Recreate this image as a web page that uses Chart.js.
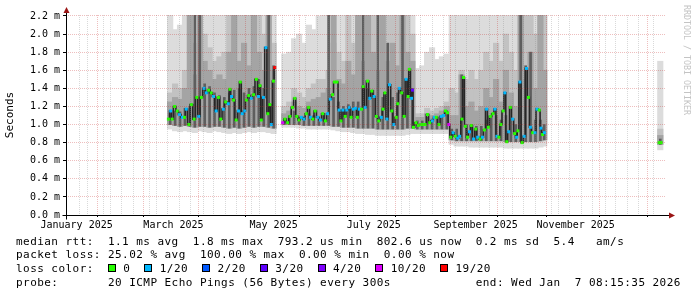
<!DOCTYPE html>
<html>
<head>
<meta charset="utf-8">
<script src="https://cdn.jsdelivr.net/npm/chart.js@4.4.1/dist/chart.umd.min.js"></script>
<style>
  html, body { margin: 0; padding: 0; background: #fff; }
  #wrap { position: relative; width: 697px; height: 297px; overflow: hidden; }
  #chart { position: absolute; left: 0; top: 0; }
  #legend { position: absolute; left: 16px; top: 234.6px; margin: 0; color: #000;
    font: 11px/13.8px "DejaVu Sans Mono", monospace; letter-spacing: 0.45px; white-space: pre; }
  .sq { display: inline-block; width: 8px; height: 8px; box-sizing: border-box;
    border: 1px solid #000; margin-right: 7.3px; vertical-align: baseline; }
  #mark { position: absolute; left: 682px; top: 5px; writing-mode: vertical-rl;
    font: 8.3px "DejaVu Sans Mono", monospace; color: #c4c4c4; white-space: nowrap; }
</style>
</head>
<body>
<div id="wrap">
  <canvas id="chart" width="697" height="297"></canvas>
  <div id="mark">RRDTOOL / TOBI OETIKER</div>
  <pre id="legend"></pre>
</div>
<script>
// x values are days counted from 1 Jan 2025 (day 0)
const X_MIN = 11.2;
const X_MAX = 371.34;   // Wed Jan 7 08:15:35 2026
const Y_MAX = 2.211;    // ms

// -------------------- axis data --------------------
const monthStartDays = [31, 59, 90, 120, 151, 181, 212, 243, 273, 304, 334, 365];
const monthLabelDays = [15, 74, 135, 196, 258, 319];
const monthLabels = ['January 2025', 'March 2025', 'May 2025', 'July 2025', 'September 2025', 'November 2025'];
const firstSunday = 18;

// -------------------- loss legend --------------------
const lossLevels = [0, 1, 2, 3, 4, 10, 19];
const lossLabels = ['0', '1/20', '2/20', '3/20', '4/20', '10/20', '19/20'];
const lossColors = ['#26ff00', '#00b8ff', '#0059ff', '#5e00ff', '#7e00ff', '#dd00ff', '#ff0000'];

const medianStats = ['1.1 ms avg', '1.8 ms max', '793.2 us min', '802.6 us now', '0.2 ms sd', '5.4   am/s'];
const lossStats = ['25.02 % avg', '100.00 % max', '0.00 % min', '0.00 % now'];
const probeText = '20 ICMP Echo Pings (56 Bytes) every 300s';
const endText = 'end: Wed Jan  7 08:15:35 2026';

// -------------------- median rtt (ms) --------------------
const medianDays = [
  70.9, 72.3, 73.2, 74.7, 76.3, 77.7, 79.4, 80.7, 81.8, 83.4,
  84.9, 86.6, 88.2, 89.4, 91.0, 92.6, 94.0, 95.4, 97.0, 98.4,
  100.0, 101.4, 102.8, 104.4, 105.8, 107.4, 108.4, 109.4, 110.6, 112.2,
  113.6, 114.7, 115.9, 117.4, 118.4, 119.8, 121.4, 122.8, 124.5, 125.8,
  126.7, 127.5, 128.8, 130.3, 131.5, 132.7, 133.6, 134.9, 135.7, 137.5,
  140.5, 141.9, 143.5, 144.9, 146.5, 147.9, 149.1, 150.5, 151.9, 153.5,
  154.9, 156.3, 157.5, 158.9, 160.3, 161.9, 163.5, 164.9, 166.5, 167.9,
  169.5, 170.9, 172.1, 173.6, 174.9, 176.0, 177.2, 178.6, 179.6, 181.0,
  182.2, 183.6, 184.8, 186.0, 187.2, 188.6, 189.6, 190.8, 192.2, 193.6,
  194.8, 196.2, 197.6, 199.0, 200.6, 201.6, 202.8, 204.0, 205.6, 207.0,
  208.2, 209.7, 210.6, 211.6, 213.0, 214.5, 215.7, 216.9, 217.7, 219.0,
  219.6, 220.2, 221.7, 223.1, 224.7, 226.1, 227.3, 228.7, 230.1, 231.7,
  232.9, 234.1, 235.7, 237.1, 238.5, 239.7, 240.9, 241.7, 242.9, 244.3,
  245.7, 247.1, 248.3, 249.7, 250.7, 251.8, 253.1, 254.3, 255.4, 256.8,
  258.1, 259.3, 260.8, 262.2, 263.4, 264.7, 265.8, 267.0, 268.6, 269.8,
  271.0, 272.2, 273.4, 274.8, 275.8, 277.0, 278.2, 279.2, 280.6, 281.8,
  283.0, 283.8, 285.0, 286.4, 287.6, 289.0, 290.2, 291.4, 292.8, 294.2,
  295.4, 296.8, 297.8, 298.8, 299.9, 335.0, 369.8, 371.0
];
const medianValues = [
  1.06, 1.15, 1.06, 1.20, 1.15, 1.11, 1.08, 1.08, 1.17, 1.00,
  1.22, 1.06, 1.30, 1.09, 1.30, 1.40, 1.35, 1.38, 1.35, 1.31,
  1.15, 1.30, 1.06, 1.17, 1.25, 1.23, 1.39, 1.31, 1.27, 1.05,
  1.15, 1.47, 1.12, 1.15, 1.27, 1.32, 1.29, 1.33, 1.50, 1.31,
  1.43, 1.05, 1.30, 1.85, 1.12, 1.22, 1.00, 1.48, 1.63, null,
  1.02, 1.06, 1.02, 1.09, 1.19, 1.29, 1.09, 1.05, 1.08, 1.06,
  1.12, 1.19, 1.08, 1.06, 1.15, 1.08, 1.05, 1.12, 1.04, 1.12,
  1.28, 1.33, 1.47, 1.47, 1.16, 1.04, 1.16, 1.09, 1.16, 1.19,
  1.08, 1.17, 1.18, 1.08, 1.17, 1.17, 1.42, 1.19, 1.48, 1.29,
  1.37, 1.31, 1.09, 1.04, 1.08, 1.17, 1.35, 1.06, 1.44, 1.15,
  1.00, 1.08, 1.23, 1.40, 1.35, 1.09, 1.50, 1.31, 1.61, 1.29,
  1.38, 0.97, 1.02, 0.99, 1.00, 1.00, 1.00, 1.11, 1.02, 1.04,
  1.08, 1.08, 1.00, 1.09, 1.10, 1.15, 1.13, 1.00, 0.86, 0.91,
  0.87, 0.85, 0.87, 1.06, 1.52, 0.98, 0.86, 0.92, 0.99, 0.84,
  0.95, 0.86, 0.84, 0.86, 0.94, 1.17, 0.97, 1.09, 1.12, 1.17,
  0.87, 0.86, 1.00, 1.15, 1.35, 0.81, 0.92, 1.19, 1.06, 0.90,
  0.86, 0.93, 1.47, 0.80, 0.87, 1.62, 1.30, 0.97, 0.91, 0.91,
  1.17, 1.16, 0.96, 0.89, 0.91, null, 0.80, 0.80
];
// lost pings out of 20 for each median point
const medianLoss = [
  0, 1, 0, 0, 0, 1, 1, 0, 1, 0,
  0, 0, 0, 1, 0, 1, 1, 0, 0, 1,
  1, 0, 0, 1, 0, 1, 0, 1, 0, 0,
  1, 0, 1, 1, 0, 0, 1, 0, 0, 1,
  0, 0, 1, 1, 0, 0, 1, 0, 19, 0,
  10, 0, 0, 0, 0, 0, 0, 0, 1, 1,
  0, 0, 1, 0, 0, 1, 1, 0, 0, 1,
  1, 0, 0, 0, 1, 0, 1, 0, 1, 1,
  0, 1, 1, 0, 1, 0, 0, 1, 0, 1,
  0, 1, 0, 0, 1, 0, 0, 1, 1, 0,
  1, 0, 0, 1, 0, 0, 1, 0, 0, 1,
  3, 0, 0, 0, 0, 0, 0, 0, 0, 1,
  1, 0, 0, 1, 1, 0, 0, 10, 0, 1,
  0, 1, 1, 0, 0, 0, 0, 1, 0, 1,
  0, 1, 0, 1, 0, 1, 0, 0, 0, 1,
  1, 0, 0, 0, 1, 0, 1, 0, 1, 0,
  1, 0, 1, 0, 1, 1, 0, 1, 0, 1,
  1, 0, 1, 0, 1, 0, 0, 0
];

// -------------------- smoke (ping spread, ms) --------------------
const smokeDays = [
  72, 75, 78, 81, 84, 87, 90, 93, 96, 99, 102, 105, 108, 111, 114, 117, 120, 123, 126, 129, 132, 135,
  141.5, 144.5, 147.5, 150.5, 153.5, 156.5, 159.5, 162.5, 165.5, 168.5,
  171.5, 174.5, 177.5, 180.5, 183.5, 186.5, 189.5, 192.5, 195.5, 198.5,
  201.5, 204.5, 207.5, 210.5, 213.5, 216.5, 219.5, 222.5, 225.5, 228.5,
  231.5, 234.5, 237.5, 240.5, 243.5, 246.5, 249.5, 252.5, 255.5, 258.5,
  261.5, 264.5, 267.5, 270.5, 273.5, 276.5, 279.5, 282.5, 285.5, 288.5,
  291.5, 294.5, 297.5, 299.8,
  370.5
];
const smokeMin = [
  0.95, 0.93, 0.92, 0.93, 0.92, 0.91, 0.93, 0.92, 0.91, 0.93, 0.92, 0.91, 0.90, 0.91, 0.90, 0.91, 0.92, 0.91, 0.92, 0.92, 0.91, 0.90,
  0.97, 0.97, 0.97, 0.96, 0.96, 0.95, 0.95, 0.95, 0.95, 0.95,
  0.94, 0.93, 0.92, 0.92, 0.91, 0.90, 0.90, 0.89, 0.89, 0.88,
  0.88, 0.88, 0.88, 0.88, 0.88, 0.89, 0.90, 0.90, 0.90, 0.90,
  0.90, 0.90, 0.90, 0.90, 0.78, 0.76, 0.76, 0.76, 0.75, 0.75,
  0.75, 0.75, 0.75, 0.75, 0.75, 0.74, 0.74, 0.74, 0.74, 0.74,
  0.74, 0.74, 0.75, 0.76,
  0.72
];
const smokeLow = [
  1.00, 0.99, 0.98, 0.99, 0.98, 0.97, 0.98, 0.98, 0.97, 0.98, 0.98, 0.97, 0.96, 0.97, 0.96, 0.97, 0.98, 0.97, 0.98, 0.98, 0.97, 0.96,
  1.00, 1.00, 1.00, 1.00, 0.99, 0.99, 0.99, 0.99, 0.99, 0.99,
  0.98, 0.98, 0.97, 0.97, 0.97, 0.96, 0.96, 0.96, 0.96, 0.95,
  0.95, 0.95, 0.95, 0.95, 0.95, 0.96, 0.96, 0.95, 0.95, 0.95,
  0.95, 0.95, 0.95, 0.95, 0.83, 0.82, 0.82, 0.82, 0.82, 0.82,
  0.82, 0.82, 0.82, 0.82, 0.82, 0.81, 0.81, 0.81, 0.81, 0.81,
  0.81, 0.81, 0.82, 0.83,
  0.78
];
const smokeMid = [
  1.12, 1.15, 1.14, 1.18, 1.20, 2.25, 2.25, 1.45, 1.42, 1.35, 1.32, 1.30, 1.35, 1.38, 1.40, 1.35, 1.40, 1.42, 1.50, 1.40, 2.25, 1.65,
  1.05, 1.07, 1.15, 1.08, 1.08, 1.12, 1.10, 1.08, 1.10, 2.25,
  1.30, 1.25, 1.20, 1.22, 1.25, 1.25, 2.25, 1.40, 1.38, 2.25,
  1.30, 1.90, 1.30, 1.35, 2.25, 1.50, 1.40, 1.04, 1.04, 1.08,
  1.06, 1.08, 1.10, 1.15, 0.95, 0.95, 1.55, 1.00, 1.00, 0.98,
  0.98, 1.05, 1.10, 1.10, 1.05, 1.10, 1.05, 1.00, 2.25, 1.65,
  1.80, 1.05, 1.05, 1.00,
  0.84
];
const smokeUpper = [
  1.25, 1.30, 1.28, 1.40, 2.25, 1.55, 2.25, 1.70, 1.60, 1.50, 1.55, 1.50, 1.80, 2.25, 1.70, 1.90, 1.65, 2.25, 1.80, 1.60, 2.25, 1.60,
  1.12, 1.15, 1.25, 1.20, 1.18, 1.25, 1.28, 1.30, 1.35, 1.40,
  2.25, 1.50, 1.45, 1.70, 1.55, 2.25, 1.70, 2.25, 1.80, 1.60,
  2.25, 1.70, 1.90, 1.65, 2.25, 1.80, 1.70, 1.08, 1.08, 1.12,
  1.10, 1.12, 1.15, 1.20, 1.10, 1.10, 1.55, 1.20, 1.25, 1.15,
  1.20, 1.40, 1.30, 1.50, 1.25, 1.60, 1.35, 1.20, 2.25, 1.50,
  1.80, 1.40, 2.25, 1.60,
  0.88
];
const smokeHigh = [
  1.35, 1.45, 1.40, 1.60, 2.25, 1.90, 2.25, 2.00, 1.85, 1.70, 1.75, 1.80, 2.25, 2.25, 2.25, 2.25, 2.25, 2.25, 2.25, 2.00, 2.25, 1.90,
  1.20, 1.25, 1.40, 1.35, 1.30, 1.40, 1.45, 1.50, 1.50, 1.60,
  1.90, 1.80, 1.70, 2.25, 1.90, 2.25, 2.25, 2.25, 2.25, 2.25,
  2.25, 2.25, 2.25, 2.25, 2.25, 2.25, 2.00, 1.12, 1.12, 1.18,
  1.15, 1.18, 1.20, 1.25, 1.40, 1.35, 1.60, 1.50, 1.60, 1.50,
  1.60, 1.80, 1.70, 1.90, 1.70, 2.00, 1.80, 1.60, 2.25, 2.25,
  2.25, 2.00, 2.25, 2.25,
  0.95
];
const smokeMax = [
  2.25, 2.05, 2.10, 2.25, 2.25, 2.25, 2.25, 2.25, 2.25, 2.25, 2.25, 2.25, 2.25, 2.25, 2.25, 2.25, 2.25, 2.25, 2.25, 2.25, 2.25, 2.25,
  1.78, 1.80, 1.95, 2.00, 1.90, 2.10, 2.05, 2.20, 2.25, 2.25,
  2.25, 2.25, 2.25, 2.25, 2.25, 2.25, 2.25, 2.25, 2.25, 2.25,
  2.25, 2.25, 2.25, 2.25, 2.25, 2.25, 2.25, 1.62, 1.65, 1.80,
  1.85, 1.72, 1.75, 1.78, 2.25, 2.25, 2.25, 2.25, 2.25, 2.25,
  2.25, 2.25, 2.25, 2.25, 2.25, 2.25, 2.25, 2.25, 2.25, 2.25,
  2.25, 2.25, 2.25, 2.25,
  1.70
];

// -------------------- legend text --------------------
function buildLegend() {
  const sw = lossLevels.map((l, i) =>
    '<span class="sq" style="background:' + lossColors[i] + '"></span>' + lossLabels[i]).join('  ');
  document.getElementById('legend').innerHTML = [
    'median rtt:  ' + medianStats.join('  '),
    'packet loss: ' + lossStats.join('  '),
    'loss color:  ' + sw,
    ('probe:       ' + probeText).padEnd(65, ' ') + endText
  ].join('\n');
}

// -------------------- chart --------------------
const MONO = '"DejaVu Sans Mono", monospace';
const MAJOR_GRID = 'rgba(200, 40, 40, 0.3)';
const MINOR_GRID = 'rgba(128, 128, 128, 0.3)';

const lossColor = l => lossColors[Math.max(0, lossLevels.indexOf(l))];

function smokeBar(bottom, top, color, order, thickness) {
  return {
    type: 'bar',
    data: smokeDays.map((d, i) => ({ x: d, y: [bottom[i], top[i]] })),
    backgroundColor: color,
    borderWidth: 0,
    barThickness: thickness,
    grouped: false,
    order
  };
}

const axisArrows = {
  id: 'axisArrows',
  afterDraw(chart) {
    const { ctx, chartArea: a } = chart;
    const xl = Math.round(a.left) + 0.5, yb = Math.round(a.bottom) + 0.5;
    ctx.save();
    ctx.strokeStyle = '#000';
    ctx.lineWidth = 1;
    ctx.beginPath();
    ctx.moveTo(xl - 4, yb); ctx.lineTo(a.right + 4, yb);
    ctx.moveTo(xl, yb + 4); ctx.lineTo(xl, a.top - 2);
    ctx.stroke();
    ctx.fillStyle = '#9a1515';
    ctx.beginPath();
    ctx.moveTo(a.right + 3, yb - 3); ctx.lineTo(a.right + 9, yb); ctx.lineTo(a.right + 3, yb + 3);
    ctx.fill();
    ctx.beginPath();
    ctx.moveTo(xl - 3, a.top - 2); ctx.lineTo(xl, a.top - 8); ctx.lineTo(xl + 3, a.top - 2);
    ctx.fill();
    ctx.restore();
  }
};

function createChart() {
  const ctx = document.getElementById('chart');
  return new Chart(ctx, {
    type: 'bar',
    data: {
      datasets: [
        {
          type: 'line',
          data: medianDays.map((d, i) => ({ x: d, y: medianValues[i] })),
          borderColor: '#262626',
          borderWidth: 1.6,
          stepped: 'middle',
          spanGaps: false,
          pointStyle: 'rect',
          pointRadius: 2.1,
          pointBorderWidth: 0,
          pointBackgroundColor: medianLoss.map(lossColor),
          order: 0
        },
        smokeBar(smokeLow, smokeMid, '#5e5e5e', 1, 2),
        smokeBar(smokeLow, smokeUpper, '#a4a4a4', 2, 5.5),
        smokeBar(smokeLow, smokeHigh, '#c2c2c2', 3, 5.5),
        smokeBar(smokeMin, smokeMax, '#dcdcdc', 4, 5.5)
      ]
    },
    options: {
      responsive: false,
      animation: false,
      layout: { padding: { left: 0, right: 31, top: 15, bottom: 62 } },
      plugins: { legend: { display: false }, tooltip: { enabled: false } },
      scales: {
        x: {
          type: 'linear',
          min: X_MIN,
          max: X_MAX,
          afterFit: s => { s.height = 20; },
          afterBuildTicks: s => {
            const ticks = [];
            for (let d = firstSunday; d < X_MAX; d += 7) ticks.push({ value: d, kind: 'week' });
            monthStartDays.forEach(d => ticks.push({ value: d, kind: 'month' }));
            monthLabelDays.forEach((d, i) => ticks.push({ value: d, kind: 'label', name: monthLabels[i] }));
            s.ticks = ticks.filter(t => t.value > X_MIN).sort((a, b) => a.value - b.value);
          },
          ticks: {
            autoSkip: false,
            maxRotation: 0,
            minRotation: 0,
            padding: 2,
            color: '#000',
            font: { family: MONO, size: 10 },
            callback: (v, i, t) => t[i].name || ''
          },
          grid: {
            z: 1,
            tickLength: 2,
            color: c => c.tick && c.tick.kind === 'month' ? MAJOR_GRID : c.tick && c.tick.kind === 'week' ? MINOR_GRID : 'transparent',
            tickColor: c => c.tick && c.tick.kind === 'month' ? '#000' : 'transparent'
          },
          border: { display: false, dash: [1, 1] }
        },
        y: {
          min: 0,
          max: Y_MAX,
          afterFit: s => { s.width = 66; },
          afterBuildTicks: s => {
            const ticks = [];
            for (let k = 0; k <= 22; k++) ticks.push({ value: k / 10, kind: k % 2 === 0 ? 'major' : 'minor' });
            s.ticks = ticks;
          },
          ticks: {
            padding: 3,
            color: '#000',
            font: { family: MONO, size: 10 },
            callback: (v, i, t) => t[i].kind === 'major' ? v.toFixed(1) + ' m' : ''
          },
          grid: {
            z: 1,
            tickLength: 3,
            color: c => c.tick && c.tick.kind === 'major' ? MAJOR_GRID : MINOR_GRID,
            tickColor: c => c.tick && c.tick.kind === 'major' ? '#000' : 'transparent'
          },
          border: { display: false, dash: [1, 1] },
          title: {
            display: true,
            text: 'Seconds',
            color: '#000',
            padding: { top: 4, bottom: 0 },
            font: { family: MONO, size: 11 }
          }
        }
      }
    },
    plugins: [axisArrows]
  });
}

window.addEventListener('DOMContentLoaded', () => {
  buildLegend();
  createChart();
});
</script>
</body>
</html>
